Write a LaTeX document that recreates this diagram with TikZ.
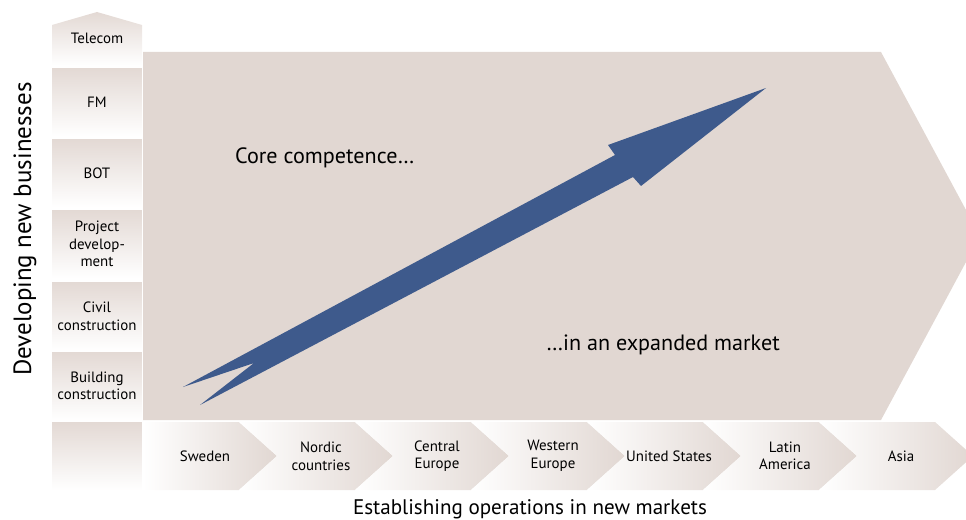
\documentclass[tikz,border=0pt]{standalone}
\usepackage{fontspec}
\setmainfont{PT Sans}
\usetikzlibrary{positioning}
\definecolor{sand}{HTML}{E1D7D2}
\definecolor{sandtop}{HTML}{E3D9D4}
\definecolor{arrowblue}{HTML}{3E5A8C}

\begin{document}
\begin{tikzpicture}[x=0.02cm, y=-0.02cm,
    catbox/.style={minimum width=1.8cm, minimum height=1.36cm, inner sep=0pt,
        align=center, font=\fontsize{8.5}{10}\selectfont,
        top color=sandtop, bottom color=white},
    mktlabel/.style={align=center, font=\fontsize{8.5}{10}\selectfont},
    bigtext/.style={font=\fontsize{12.6}{15}\selectfont},
    axislabel/.style={font=\fontsize{12}{14}\selectfont}]
    \clip (0,0) rectangle (966,520);

    % big background arrow
    \fill[sand] (143,52) -- (881,52) -- (980,236) -- (881,420) -- (143,420) -- cycle;

    % business column
    \path[top color=sandtop, bottom color=white]
        (52,25) -- (97,12) -- (142,25) -- (142,65) -- (52,65) -- cycle;
    \node[mktlabel] at (97,38)(telecom){Telecom};
    \node[catbox] at (97,102)(fm){FM};
    \node[catbox] at (97,173)(bot){BOT};
    \node[catbox] at (97,244)(proj){Project\\develop-\\ment};
    \node[catbox] at (97,316)(civil){Civil\\construction};
    \node[catbox] at (97,386)(build){Building\\construction};
    \node[catbox] at (97,456)(corner){};

    % market chevrons
    \foreach \l/\n/\p/\name/\txt in {
        143/143/277/swe/Sweden,
        239/277/393/nor/{Nordic\\countries},
        355/393/509/cen/{Central\\Europe},
        471/509/625/wes/{Western\\Europe},
        587/625/741/usa/{United States},
        703/741/857/lat/{Latin\\America},
        819/857/973/asi/Asia}
    {
        \path[left color=white, right color=sand]
            (\l,422) -- (\p-38,422) -- (\p,456) -- (\p-38,490) -- (\l,490) -- (\n,456) -- cycle;
        \node[mktlabel] at (\p-72,456)(\name){\txt};
    }

    % growth arrow
    \fill[arrowblue] (766,88) -- (641,186) -- (633,177) -- (200,405) -- (254,363)
        -- (183,387) -- (615,155) -- (608,145) -- cycle;

    \node[bigtext, anchor=west] at (229,158)(core){Core competence…};
    \node[bigtext, anchor=east] at (786,345)(market){…in an expanded market};
    \node[axislabel] at (530,509)(xlab){Establishing operations in new markets};
    \node[axislabel, font=\fontsize{14.2}{16}\selectfont, rotate=90] at (25,229)(ylab){Developing new businesses};
\end{tikzpicture}
\end{document}
